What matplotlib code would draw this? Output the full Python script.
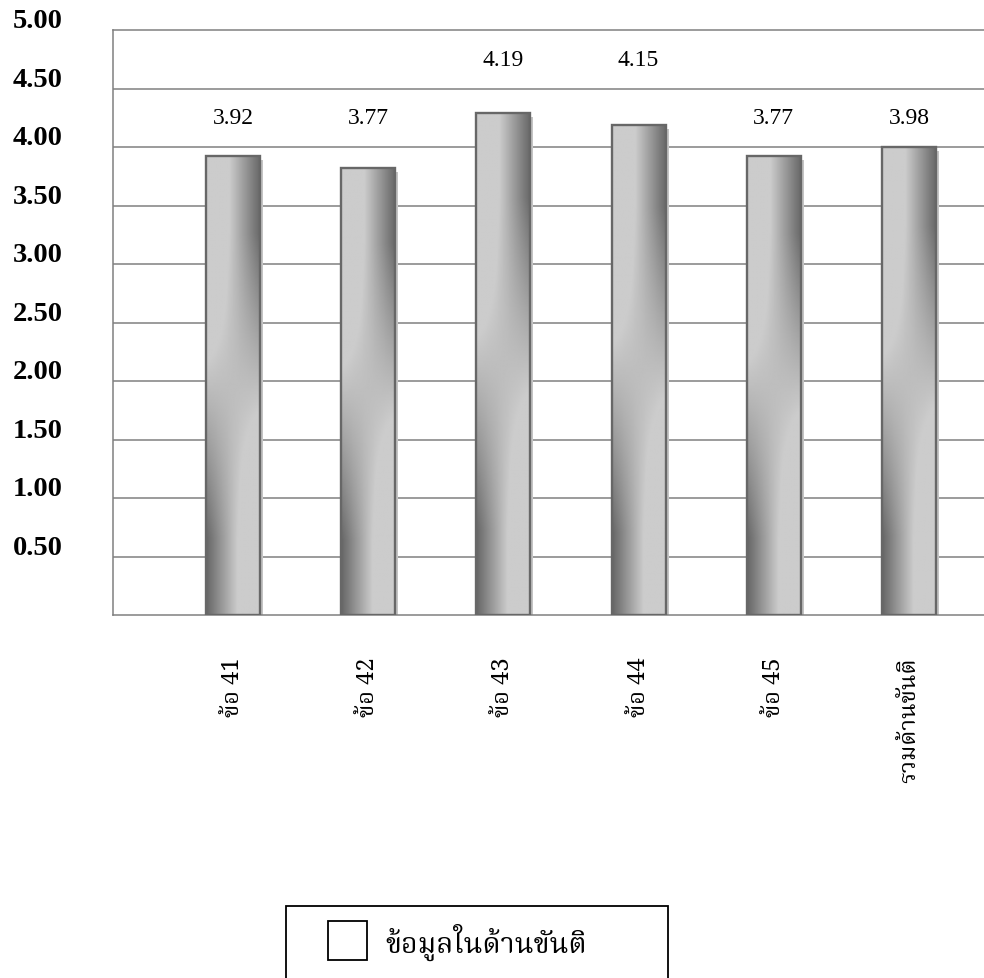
import numpy as np
import matplotlib
matplotlib.use('Agg')
import matplotlib.pyplot as plt
import matplotlib.transforms as mtransforms
from matplotlib import font_manager
from matplotlib.ft2font import FT2Font
from matplotlib.patches import Rectangle

# Data
categories   = ['ข้อ 41', 'ข้อ 42', 'ข้อ 43', 'ข้อ 44', 'ข้อ 45', 'รวมด้านขันติ']
bar_values   = [3.92, 3.82, 4.29, 4.19, 3.92, 4.00]   # drawn bar heights
label_values = ['3.92', '3.77', '4.19', '4.15', '3.77', '3.98']  # printed labels
y_ticks      = [0.50, 1.00, 1.50, 2.00, 2.50, 3.00, 3.50, 4.00, 4.50, 5.00]
legend_label = 'ข้อมูลในด้านขันติ'


def find_thai_font():
    # pick an installed font that actually has Thai glyphs
    found = []
    for f in font_manager.fontManager.ttflist:
        try:
            cmap = FT2Font(f.fname).get_charmap()
        except Exception:
            continue
        if 0x0E02 in cmap and 0x0E49 in cmap:
            found.append(f.name)
    if not found:
        return None
    for pref in ['Norasi', 'Noto Serif Thai', 'Tlwg', 'Loma', 'Garuda', 'Noto Sans Thai']:
        for name in found:
            if pref in name:
                return name
    return found[0]


thai = find_thai_font()
thai_family = [thai, 'DejaVu Sans'] if thai else ['DejaVu Sans']
serif = 'Liberation Serif'

fig = plt.figure(figsize=(9.84, 9.79), dpi=100)
ax = fig.add_axes([113 / 984, 1 - 616 / 979, 871 / 984, 585 / 979])

grid_color = '#808080'
x = np.arange(len(categories))
width = 0.40

# gradient: light left / dark right at the top, reversed at the bottom,
# light grey through the middle
u = np.linspace(0, 1, 60)[None, :]
v = np.linspace(0, 1, 300)[:, None]
t = np.clip((2 * v - 1) * 1.5, -1, 1)
p = 0.5 + (u - 0.5) * t
shade = 0.80 - 0.40 * np.clip((p - 0.42) / 0.58, 0, 1)

shadow_tr = mtransforms.offset_copy(ax.transData, fig=fig, x=3, y=-4, units='dots')
for xi, h in zip(x, bar_values):
    ax.add_patch(Rectangle((xi - width / 2, 0), width, h, facecolor='#c4c4c4',
                           edgecolor='none', transform=shadow_tr, zorder=2))
    ax.imshow(shade, cmap='gray', vmin=0, vmax=1, origin='lower', aspect='auto',
              extent=(xi - width / 2, xi + width / 2, 0, h), zorder=3,
              interpolation='bilinear')
    ax.add_patch(Rectangle((xi - width / 2, 0), width, h, facecolor='none',
                           edgecolor='#676767', lw=1.7, zorder=4))

# value labels sit in the middle of the grid band above the bar top
for xi, h, lab in zip(x, bar_values, label_values):
    ly = np.ceil(h * 2) / 2 + 0.25
    ax.text(xi, ly, lab, ha='center', va='center', fontsize=17,
            family=serif, color='black', zorder=5)

for tk in y_ticks[:-1]:
    ax.axhline(tk, color=grid_color, lw=1.1, zorder=1)

ax.set_xlim(-0.888, 5.555)
ax.set_ylim(0, 5.0)
ax.spines['right'].set_visible(False)
for side in ['left', 'top', 'bottom']:
    ax.spines[side].set_color(grid_color)
    ax.spines[side].set_linewidth(1.1)

ax.set_yticks([])
ax.set_xticks(x)
ax.set_xticklabels(categories, rotation=90, fontsize=17, family=thai_family, va='top')
ax.tick_params(axis='x', length=0, pad=30)

# y labels: bold, left of the plot, a little above each gridline
lab_tr = mtransforms.offset_copy(ax.get_yaxis_transform(), fig=fig, x=0, y=9, units='dots')
for tk in y_ticks:
    ax.text(-100 / 871, tk, f'{tk:.2f}', transform=lab_tr, ha='left', va='center',
            fontsize=20.5, fontweight='bold', family=serif, clip_on=False)

# legend box (bottom edge runs off the picture)
fig.patches.append(Rectangle((286 / 984, -0.02), 382 / 984, 1 - 907 / 979 + 0.02,
                             transform=fig.transFigure, facecolor='white',
                             edgecolor='black', lw=1.3))
fig.patches.append(Rectangle((328 / 984, 1 - 961 / 979), 39 / 984, 39 / 979,
                             transform=fig.transFigure, facecolor='white',
                             edgecolor='black', lw=1.3))
fig.text(385 / 984, 1 - 942 / 979, legend_label, ha='left', va='center',
         fontsize=20.5, family=thai_family)

fig.savefig('out.png', dpi=100)
